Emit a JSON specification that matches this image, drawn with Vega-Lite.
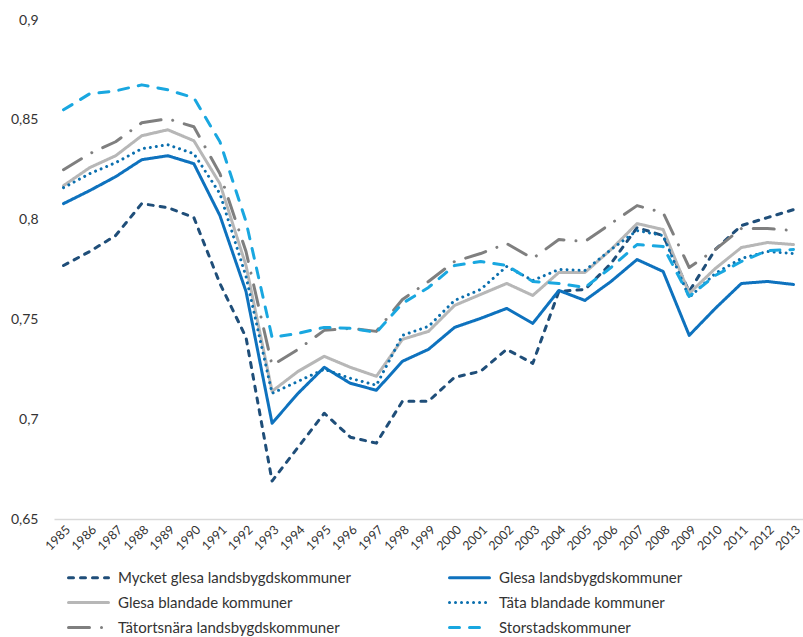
{
  "$schema": "https://vega.github.io/schema/vega-lite/v6.json",
  "width": 749,
  "height": 499,
  "autosize": {"type": "none"},
  "padding": {"left": 54, "top": 20, "right": 0, "bottom": 118},
  "config": {"view": {"stroke": null}, "font": "Lato"},
  "data": {
    "values": [
      {"year": 1985, "Mycket glesa landsbygdskommuner": 0.777, "Glesa landsbygdskommuner": 0.808, "Glesa blandade kommuner": 0.817, "Täta blandade kommuner": 0.816, "Tätortsnära landsbygdskommuner": 0.825, "Storstadskommuner": 0.855},
      {"year": 1986, "Mycket glesa landsbygdskommuner": 0.784, "Glesa landsbygdskommuner": 0.8145, "Glesa blandade kommuner": 0.826, "Täta blandade kommuner": 0.823, "Tätortsnära landsbygdskommuner": 0.833, "Storstadskommuner": 0.863},
      {"year": 1987, "Mycket glesa landsbygdskommuner": 0.792, "Glesa landsbygdskommuner": 0.8215, "Glesa blandade kommuner": 0.832, "Täta blandade kommuner": 0.8285, "Tätortsnära landsbygdskommuner": 0.839, "Storstadskommuner": 0.8645},
      {"year": 1988, "Mycket glesa landsbygdskommuner": 0.808, "Glesa landsbygdskommuner": 0.83, "Glesa blandade kommuner": 0.842, "Täta blandade kommuner": 0.8355, "Tätortsnära landsbygdskommuner": 0.8485, "Storstadskommuner": 0.8675},
      {"year": 1989, "Mycket glesa landsbygdskommuner": 0.806, "Glesa landsbygdskommuner": 0.832, "Glesa blandade kommuner": 0.845, "Täta blandade kommuner": 0.8375, "Tätortsnära landsbygdskommuner": 0.8505, "Storstadskommuner": 0.865},
      {"year": 1990, "Mycket glesa landsbygdskommuner": 0.801, "Glesa landsbygdskommuner": 0.828, "Glesa blandade kommuner": 0.8395, "Täta blandade kommuner": 0.833, "Tätortsnära landsbygdskommuner": 0.8465, "Storstadskommuner": 0.861},
      {"year": 1991, "Mycket glesa landsbygdskommuner": 0.768, "Glesa landsbygdskommuner": 0.802, "Glesa blandade kommuner": 0.818, "Täta blandade kommuner": 0.813, "Tätortsnära landsbygdskommuner": 0.823, "Storstadskommuner": 0.839},
      {"year": 1992, "Mycket glesa landsbygdskommuner": 0.741, "Glesa landsbygdskommuner": 0.764, "Glesa blandade kommuner": 0.777, "Täta blandade kommuner": 0.7715, "Tätortsnära landsbygdskommuner": 0.784, "Storstadskommuner": 0.799},
      {"year": 1993, "Mycket glesa landsbygdskommuner": 0.669, "Glesa landsbygdskommuner": 0.698, "Glesa blandade kommuner": 0.714, "Täta blandade kommuner": 0.713, "Tätortsnära landsbygdskommuner": 0.727, "Storstadskommuner": 0.741},
      {"year": 1994, "Mycket glesa landsbygdskommuner": 0.686, "Glesa landsbygdskommuner": 0.713, "Glesa blandade kommuner": 0.724, "Täta blandade kommuner": 0.719, "Tätortsnära landsbygdskommuner": 0.735, "Storstadskommuner": 0.743},
      {"year": 1995, "Mycket glesa landsbygdskommuner": 0.703, "Glesa landsbygdskommuner": 0.726, "Glesa blandade kommuner": 0.7315, "Täta blandade kommuner": 0.725, "Tätortsnära landsbygdskommuner": 0.7445, "Storstadskommuner": 0.746},
      {"year": 1996, "Mycket glesa landsbygdskommuner": 0.691, "Glesa landsbygdskommuner": 0.718, "Glesa blandade kommuner": 0.726, "Täta blandade kommuner": 0.7205, "Tätortsnära landsbygdskommuner": 0.7455, "Storstadskommuner": 0.7455},
      {"year": 1997, "Mycket glesa landsbygdskommuner": 0.688, "Glesa landsbygdskommuner": 0.7145, "Glesa blandade kommuner": 0.7215, "Täta blandade kommuner": 0.717, "Tätortsnära landsbygdskommuner": 0.744, "Storstadskommuner": 0.7435},
      {"year": 1998, "Mycket glesa landsbygdskommuner": 0.709, "Glesa landsbygdskommuner": 0.729, "Glesa blandade kommuner": 0.74, "Täta blandade kommuner": 0.742, "Tätortsnära landsbygdskommuner": 0.76, "Storstadskommuner": 0.758},
      {"year": 1999, "Mycket glesa landsbygdskommuner": 0.709, "Glesa landsbygdskommuner": 0.735, "Glesa blandade kommuner": 0.744, "Täta blandade kommuner": 0.7465, "Tätortsnära landsbygdskommuner": 0.769, "Storstadskommuner": 0.766},
      {"year": 2000, "Mycket glesa landsbygdskommuner": 0.721, "Glesa landsbygdskommuner": 0.746, "Glesa blandade kommuner": 0.757, "Täta blandade kommuner": 0.7595, "Tätortsnära landsbygdskommuner": 0.779, "Storstadskommuner": 0.777},
      {"year": 2001, "Mycket glesa landsbygdskommuner": 0.724, "Glesa landsbygdskommuner": 0.7505, "Glesa blandade kommuner": 0.7625, "Täta blandade kommuner": 0.765, "Tätortsnära landsbygdskommuner": 0.783, "Storstadskommuner": 0.779},
      {"year": 2002, "Mycket glesa landsbygdskommuner": 0.735, "Glesa landsbygdskommuner": 0.7555, "Glesa blandade kommuner": 0.768, "Täta blandade kommuner": 0.7765, "Tätortsnära landsbygdskommuner": 0.788, "Storstadskommuner": 0.777},
      {"year": 2003, "Mycket glesa landsbygdskommuner": 0.728, "Glesa landsbygdskommuner": 0.748, "Glesa blandade kommuner": 0.762, "Täta blandade kommuner": 0.7695, "Tätortsnära landsbygdskommuner": 0.7805, "Storstadskommuner": 0.769},
      {"year": 2004, "Mycket glesa landsbygdskommuner": 0.764, "Glesa landsbygdskommuner": 0.7645, "Glesa blandade kommuner": 0.7735, "Täta blandade kommuner": 0.775, "Tätortsnära landsbygdskommuner": 0.79, "Storstadskommuner": 0.768},
      {"year": 2005, "Mycket glesa landsbygdskommuner": 0.765, "Glesa landsbygdskommuner": 0.7595, "Glesa blandade kommuner": 0.7735, "Täta blandade kommuner": 0.7745, "Tätortsnära landsbygdskommuner": 0.789, "Storstadskommuner": 0.766},
      {"year": 2006, "Mycket glesa landsbygdskommuner": 0.778, "Glesa landsbygdskommuner": 0.769, "Glesa blandade kommuner": 0.785, "Täta blandade kommuner": 0.785, "Tätortsnära landsbygdskommuner": 0.798, "Storstadskommuner": 0.776},
      {"year": 2007, "Mycket glesa landsbygdskommuner": 0.796, "Glesa landsbygdskommuner": 0.78, "Glesa blandade kommuner": 0.798, "Täta blandade kommuner": 0.7945, "Tätortsnära landsbygdskommuner": 0.807, "Storstadskommuner": 0.7875},
      {"year": 2008, "Mycket glesa landsbygdskommuner": 0.792, "Glesa landsbygdskommuner": 0.774, "Glesa blandade kommuner": 0.795, "Täta blandade kommuner": 0.792, "Tätortsnära landsbygdskommuner": 0.8035, "Storstadskommuner": 0.7865},
      {"year": 2009, "Mycket glesa landsbygdskommuner": 0.764, "Glesa landsbygdskommuner": 0.742, "Glesa blandade kommuner": 0.763, "Täta blandade kommuner": 0.761, "Tätortsnära landsbygdskommuner": 0.776, "Storstadskommuner": 0.7615},
      {"year": 2010, "Mycket glesa landsbygdskommuner": 0.785, "Glesa landsbygdskommuner": 0.7555, "Glesa blandade kommuner": 0.7755, "Täta blandade kommuner": 0.773, "Tätortsnära landsbygdskommuner": 0.785, "Storstadskommuner": 0.772},
      {"year": 2011, "Mycket glesa landsbygdskommuner": 0.797, "Glesa landsbygdskommuner": 0.768, "Glesa blandade kommuner": 0.786, "Täta blandade kommuner": 0.7805, "Tätortsnära landsbygdskommuner": 0.7955, "Storstadskommuner": 0.779},
      {"year": 2012, "Mycket glesa landsbygdskommuner": 0.801, "Glesa landsbygdskommuner": 0.769, "Glesa blandade kommuner": 0.7885, "Täta blandade kommuner": 0.784, "Tätortsnära landsbygdskommuner": 0.7955, "Storstadskommuner": 0.7845},
      {"year": 2013, "Mycket glesa landsbygdskommuner": 0.805, "Glesa landsbygdskommuner": 0.7675, "Glesa blandade kommuner": 0.7875, "Täta blandade kommuner": 0.783, "Tätortsnära landsbygdskommuner": 0.7945, "Storstadskommuner": 0.785}
    ]
  },
  "transform": [
    {"fold": ["Mycket glesa landsbygdskommuner", "Glesa landsbygdskommuner", "Glesa blandade kommuner", "Täta blandade kommuner", "Tätortsnära landsbygdskommuner", "Storstadskommuner"], "as": ["series", "value"]}
  ],
  "mark": {"type": "line", "strokeWidth": 3, "strokeCap": "round", "strokeJoin": "round"},
  "encoding": {
    "x": {
      "field": "year", "type": "ordinal",
      "scale": {"type": "point", "padding": 0.365},
      "axis": {"title": null, "ticks": false, "grid": false, "domainColor": "#D9D9D9", "domainWidth": 1.5, "labelAngle": -45, "labelFontSize": 12.5, "labelColor": "#333", "labelPadding": 4, "labelFont": "Lato"}
    },
    "y": {
      "field": "value", "type": "quantitative",
      "scale": {"domain": [0.65, 0.9], "zero": false, "nice": false},
      "axis": {"title": null, "domain": false, "ticks": false, "grid": false, "values": [0.65, 0.7, 0.75, 0.8, 0.85, 0.9], "labelExpr": "replace(format(datum.value, '.2~f'), '.', ',')", "labelFontSize": 14, "labelColor": "#333", "labelPadding": 16, "labelFont": "Lato"}
    },
    "color": {
      "field": "series", "type": "nominal",
      "scale": {
        "domain": ["Mycket glesa landsbygdskommuner", "Glesa blandade kommuner", "Tätortsnära landsbygdskommuner", "Glesa landsbygdskommuner", "Täta blandade kommuner", "Storstadskommuner"],
        "range": ["#1F4E79", "#B7B7B7", "#7F7F7F", "#0E72BE", "#0B6FAE", "#19A7E0"]
      },
      "legend": {
        "orient": "none", "legendX": 23, "legendY": 546, "columns": 2, "title": null,
        "symbolType": "M-2,0H2", "symbolSize": 400, "symbolStrokeWidth": 3, "symbolFillColor": "transparent",
        "labelFont": "Lato", "labelFontSize": 15, "labelColor": "#333", "labelOffset": 18,
        "columnPadding": 92, "rowPadding": 5, "labelLimit": 400,
        "encode": {"symbols": {"update": {"strokeCap": {"value": "round"}}}}
      }
    },
    "strokeDash": {
      "field": "series", "type": "nominal",
      "scale": {
        "domain": ["Mycket glesa landsbygdskommuner", "Glesa blandade kommuner", "Tätortsnära landsbygdskommuner", "Glesa landsbygdskommuner", "Täta blandade kommuner", "Storstadskommuner"],
        "range": [[5, 7], [1, 0], [21, 12, 0.01, 12], [1, 0], [0.01, 6], [10, 10]]
      }
    }
  }
}
